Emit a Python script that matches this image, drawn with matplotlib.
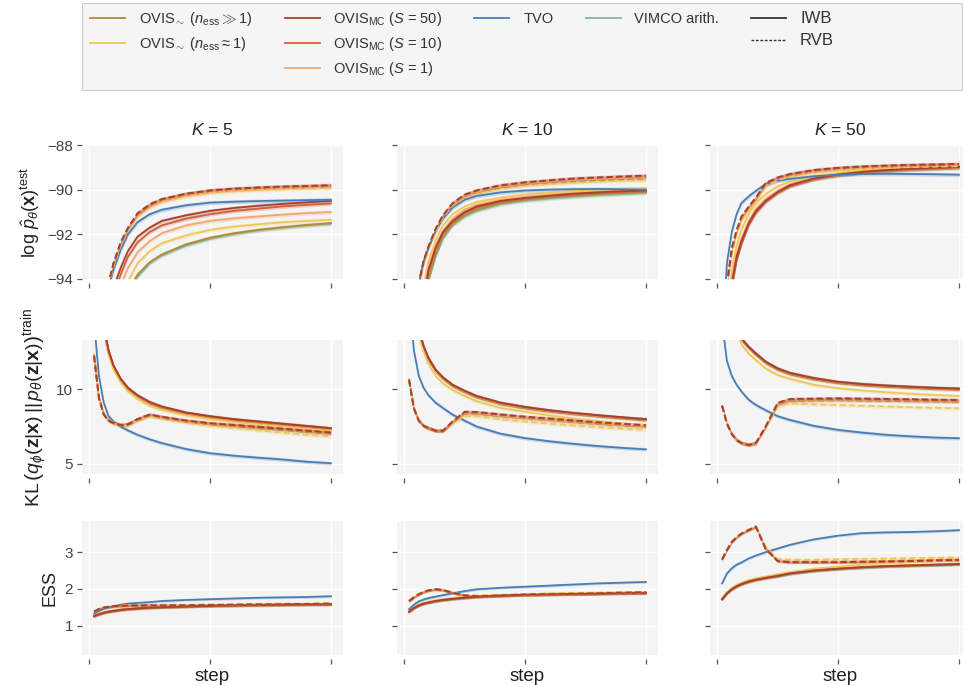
import matplotlib
matplotlib.use("Agg")
import matplotlib.pyplot as plt
from matplotlib.lines import Line2D
from matplotlib.patches import Rectangle

plt.rcParams["font.family"] = ["Liberation Sans", "DejaVu Sans"]
plt.rcParams["mathtext.fontset"] = "custom"
plt.rcParams["mathtext.rm"] = "Liberation Sans"
plt.rcParams["mathtext.it"] = "Liberation Sans:italic"
plt.rcParams["mathtext.bf"] = "Liberation Sans:bold"

steps = [2, 4, 6, 8, 10, 13, 16, 20, 25, 30, 40, 50, 60, 70, 80, 90, 100]
k_values = [5, 10, 50]

# ---- log p(x) on test set ----
logp_k5_iwb = {
    "vimco": [-103, -101, -99.6, -98.6, -97.6, -96.0, -94.6, -93.9, -93.3, -92.95, -92.5, -92.2, -91.98, -91.82, -91.7, -91.6, -91.52],
    "nbig": [-103, -101, -99.5, -98.5, -97.5, -95.8, -94.5, -93.8, -93.25, -92.9, -92.45, -92.15, -91.95, -91.8, -91.68, -91.58, -91.5],
    "nsmall": [-102, -100, -98.5, -97.4, -96.3, -95.0, -94.1, -93.3, -92.75, -92.4, -92.05, -91.8, -91.65, -91.55, -91.46, -91.4, -91.35],
    "s1": [-101, -99, -97.5, -96.3, -95.4, -94.3, -93.5, -92.8, -92.3, -91.95, -91.6, -91.4, -91.28, -91.2, -91.12, -91.05, -91.0],
    "s10": [-100.5, -98.6, -97.0, -95.7, -94.7, -93.8, -93.0, -92.35, -91.9, -91.6, -91.3, -91.1, -90.95, -90.85, -90.75, -90.68, -90.62],
    "s50": [-100, -98.2, -96.6, -95.3, -94.4, -93.5, -92.75, -92.1, -91.7, -91.4, -91.15, -90.95, -90.82, -90.72, -90.64, -90.57, -90.5],
    "tvo": [-99, -97, -95.4, -94.4, -93.6, -92.7, -92.0, -91.45, -91.1, -90.9, -90.7, -90.58, -90.54, -90.51, -90.49, -90.47, -90.45],
}
logp_k5_rvb = {
    "nsmall": [-99, -97, -95.4, -94.3, -93.45, -92.5, -91.85, -91.2, -90.8, -90.55, -90.3, -90.15, -90.07, -90.02, -89.98, -89.95, -89.93],
    "nbig": [-99, -97, -95.3, -94.2, -93.3, -92.4, -91.75, -91.1, -90.7, -90.45, -90.2, -90.05, -89.98, -89.93, -89.9, -89.87, -89.85],
    "s1": [-99, -97, -95.4, -94.3, -93.4, -92.45, -91.8, -91.15, -90.75, -90.5, -90.25, -90.1, -90.02, -89.97, -89.93, -89.9, -89.88],
    "s10": [-99, -97, -95.3, -94.2, -93.35, -92.4, -91.75, -91.1, -90.7, -90.45, -90.2, -90.05, -89.97, -89.92, -89.88, -89.85, -89.82],
    "s50": [-99, -97, -95.3, -94.2, -93.3, -92.35, -91.7, -91.05, -90.65, -90.42, -90.18, -90.03, -89.95, -89.9, -89.86, -89.83, -89.8],
}
logp_k10_iwb = {
    "vimco": [-101.5, -99.5, -97.5, -95.5, -94.1, -93.0, -92.2, -91.6, -91.2, -90.95, -90.65, -90.5, -90.4, -90.32, -90.25, -90.2, -90.15],
    "nbig": [-101.5, -99.5, -97.5, -95.4, -94.0, -92.9, -92.1, -91.55, -91.15, -90.9, -90.6, -90.45, -90.35, -90.27, -90.2, -90.15, -90.1],
    "nsmall": [-100, -98, -96, -94.3, -93.2, -92.25, -91.6, -91.1, -90.75, -90.55, -90.35, -90.22, -90.13, -90.05, -90.0, -89.96, -89.93],
    "s1": [-101, -98.8, -96.8, -94.8, -93.5, -92.5, -91.85, -91.3, -90.9, -90.68, -90.45, -90.32, -90.22, -90.15, -90.1, -90.05, -90.0],
    "s10": [-101, -99, -97, -95, -93.7, -92.65, -91.95, -91.45, -91.05, -90.8, -90.53, -90.4, -90.3, -90.22, -90.15, -90.1, -90.06],
    "s50": [-101, -99, -97, -95, -93.6, -92.6, -91.9, -91.4, -91.0, -90.75, -90.5, -90.37, -90.27, -90.18, -90.12, -90.07, -90.03],
    "tvo": [-99, -96.5, -94.2, -93.2, -92.6, -91.85, -91.3, -90.8, -90.45, -90.28, -90.12, -90.04, -90.0, -89.98, -89.97, -89.98, -90.0],
}
logp_k10_rvb = {
    "nsmall": [-99, -96.6, -94.3, -93.3, -92.65, -91.85, -91.25, -90.72, -90.35, -90.17, -89.95, -89.82, -89.74, -89.68, -89.63, -89.6, -89.58],
    "nbig": [-99, -96.6, -94.3, -93.3, -92.6, -91.8, -91.2, -90.68, -90.3, -90.12, -89.9, -89.76, -89.68, -89.62, -89.57, -89.53, -89.5],
    "s1": [-99, -96.6, -94.3, -93.3, -92.6, -91.8, -91.2, -90.66, -90.28, -90.1, -89.86, -89.72, -89.64, -89.57, -89.52, -89.48, -89.45],
    "s10": [-99, -96.5, -94.2, -93.2, -92.55, -91.75, -91.15, -90.62, -90.24, -90.05, -89.82, -89.68, -89.6, -89.52, -89.47, -89.43, -89.4],
    "s50": [-99, -96.5, -94.2, -93.2, -92.55, -91.75, -91.15, -90.6, -90.22, -90.03, -89.8, -89.67, -89.58, -89.5, -89.45, -89.41, -89.37],
}
logp_k50_iwb = {
    "vimco": [-102, -97.2, -94.4, -93.1, -92.4, -91.55, -91.0, -90.52, -90.12, -89.83, -89.52, -89.35, -89.24, -89.16, -89.1, -89.06, -89.03],
    "nbig": [-102, -97, -94.2, -93.0, -92.3, -91.5, -90.95, -90.48, -90.08, -89.8, -89.5, -89.32, -89.21, -89.13, -89.07, -89.03, -88.99],
    "nsmall": [-100, -96, -93.6, -92.5, -91.8, -91.1, -90.6, -90.2, -89.85, -89.65, -89.4, -89.25, -89.15, -89.08, -89.04, -89.02, -89.0],
    "s1": [-101.5, -96.8, -94.1, -92.9, -92.2, -91.4, -90.85, -90.42, -90.05, -89.78, -89.48, -89.3, -89.19, -89.11, -89.05, -89.01, -88.97],
    "s10": [-102, -97.2, -94.4, -93.2, -92.45, -91.6, -91.05, -90.55, -90.15, -89.85, -89.53, -89.35, -89.23, -89.15, -89.09, -89.05, -89.01],
    "s50": [-102, -97, -94.2, -93.0, -92.3, -91.5, -90.95, -90.5, -90.1, -89.8, -89.5, -89.32, -89.2, -89.12, -89.06, -89.02, -88.98],
    "tvo": [-97, -93.3, -91.9, -91.1, -90.6, -90.3, -90.05, -89.75, -89.6, -89.52, -89.4, -89.33, -89.3, -89.29, -89.3, -89.31, -89.33],
}
logp_k50_rvb = {
    "nsmall": [-99, -94.5, -92.9, -92.0, -91.4, -90.9, -90.5, -89.85, -89.57, -89.42, -89.22, -89.12, -89.06, -89.02, -88.99, -88.97, -88.95],
    "nbig": [-99, -94.3, -92.7, -91.9, -91.3, -90.8, -90.42, -89.78, -89.5, -89.35, -89.16, -89.06, -89.0, -88.96, -88.93, -88.91, -88.89],
    "s1": [-99, -94.4, -92.8, -91.9, -91.3, -90.85, -90.45, -89.8, -89.52, -89.37, -89.17, -89.07, -89.01, -88.97, -88.94, -88.92, -88.9],
    "s10": [-99, -94.3, -92.7, -91.85, -91.25, -90.8, -90.4, -89.75, -89.48, -89.33, -89.14, -89.04, -88.98, -88.94, -88.91, -88.89, -88.87],
    "s50": [-99, -94.2, -92.6, -91.8, -91.2, -90.75, -90.35, -89.7, -89.45, -89.3, -89.12, -89.02, -88.96, -88.92, -88.89, -88.87, -88.85],
}

# ---- KL(q || p) on training set ----
kl_k5_iwb = {
    "vimco": [22, 17, 14.2, 12.6, 11.55, 10.68, 10.07, 9.56, 9.12, 8.82, 8.42, 8.17, 7.97, 7.82, 7.67, 7.52, 7.38],
    "nbig": [22, 17, 14.1, 12.5, 11.5, 10.6, 10.0, 9.5, 9.05, 8.75, 8.35, 8.1, 7.9, 7.75, 7.6, 7.45, 7.3],
    "nsmall": [21.5, 16.6, 13.8, 12.3, 11.3, 10.45, 9.85, 9.35, 8.9, 8.62, 8.25, 8.0, 7.8, 7.65, 7.5, 7.35, 7.2],
    "s1": [22, 17, 14.2, 12.6, 11.55, 10.65, 10.05, 9.55, 9.1, 8.8, 8.4, 8.15, 7.95, 7.8, 7.65, 7.5, 7.35],
    "s10": [22, 17, 14.2, 12.6, 11.6, 10.7, 10.1, 9.58, 9.12, 8.82, 8.42, 8.17, 7.97, 7.82, 7.67, 7.52, 7.38],
    "s50": [22, 17, 14.2, 12.6, 11.6, 10.7, 10.1, 9.6, 9.15, 8.85, 8.45, 8.2, 8.0, 7.85, 7.7, 7.55, 7.4],
    "tvo": [14.5, 10.9, 9.1, 8.2, 7.85, 7.5, 7.25, 6.95, 6.65, 6.4, 6.0, 5.72, 5.55, 5.42, 5.3, 5.15, 5.05],
}
kl_k5_rvb = {
    "nsmall": [12.4, 9.5, 8.35, 7.9, 7.72, 7.55, 7.58, 7.9, 8.18, 8.02, 7.75, 7.55, 7.4, 7.25, 7.1, 6.95, 6.85],
    "nbig": [12.2, 9.4, 8.3, 7.9, 7.74, 7.58, 7.62, 7.95, 8.25, 8.1, 7.85, 7.66, 7.53, 7.4, 7.28, 7.15, 7.02],
    "s1": [12.3, 9.5, 8.4, 7.95, 7.8, 7.65, 7.68, 8.0, 8.28, 8.12, 7.88, 7.7, 7.58, 7.46, 7.34, 7.2, 7.08],
    "s10": [12.3, 9.45, 8.35, 7.92, 7.77, 7.62, 7.67, 8.02, 8.32, 8.17, 7.92, 7.74, 7.62, 7.5, 7.38, 7.25, 7.13],
    "s50": [12.2, 9.4, 8.3, 7.9, 7.75, 7.6, 7.65, 8.0, 8.3, 8.15, 7.9, 7.72, 7.6, 7.47, 7.35, 7.22, 7.1],
}
kl_k10_iwb = {
    "vimco": [20, 16, 14, 12.9, 12.08, 11.28, 10.77, 10.27, 9.87, 9.52, 9.07, 8.8, 8.58, 8.4, 8.25, 8.12, 8.0],
    "nbig": [20, 16, 14, 12.85, 12.0, 11.2, 10.7, 10.2, 9.8, 9.45, 9.0, 8.73, 8.52, 8.35, 8.2, 8.07, 7.95],
    "nsmall": [19.5, 15.5, 13.6, 12.5, 11.7, 10.9, 10.4, 9.95, 9.55, 9.2, 8.75, 8.5, 8.25, 8.05, 7.88, 7.72, 7.6],
    "s1": [20, 16, 14, 12.9, 12.05, 11.25, 10.75, 10.25, 9.85, 9.5, 9.05, 8.78, 8.56, 8.38, 8.23, 8.1, 7.97],
    "s10": [20, 16, 14, 12.9, 12.1, 11.3, 10.78, 10.28, 9.88, 9.53, 9.08, 8.8, 8.58, 8.4, 8.25, 8.11, 7.98],
    "s50": [20, 16, 14, 12.9, 12.1, 11.3, 10.8, 10.3, 9.9, 9.55, 9.1, 8.82, 8.6, 8.42, 8.27, 8.13, 8.0],
    "tvo": [16, 12.6, 10.9, 10.1, 9.6, 9.1, 8.75, 8.3, 7.9, 7.5, 7.02, 6.73, 6.52, 6.35, 6.2, 6.08, 5.98],
}
kl_k10_rvb = {
    "nsmall": [10.7, 8.75, 7.95, 7.6, 7.45, 7.27, 7.25, 7.7, 8.2, 8.2, 8.0, 7.83, 7.7, 7.58, 7.47, 7.37, 7.28],
    "nbig": [10.6, 8.68, 7.88, 7.54, 7.4, 7.22, 7.2, 7.78, 8.38, 8.36, 8.2, 8.05, 7.93, 7.8, 7.68, 7.58, 7.5],
    "s1": [10.6, 8.7, 7.9, 7.56, 7.41, 7.23, 7.25, 7.8, 8.4, 8.4, 8.24, 8.08, 7.96, 7.84, 7.72, 7.62, 7.52],
    "s10": [10.7, 8.75, 7.92, 7.57, 7.42, 7.24, 7.24, 7.82, 8.45, 8.44, 8.28, 8.13, 8.01, 7.88, 7.76, 7.66, 7.56],
    "s50": [10.6, 8.7, 7.9, 7.55, 7.4, 7.22, 7.22, 7.85, 8.5, 8.48, 8.32, 8.17, 8.05, 7.92, 7.8, 7.7, 7.6],
}
kl_k50_iwb = {
    "vimco": [22, 18.5, 16.2, 14.6, 13.4, 12.84, 12.4, 11.85, 11.4, 11.1, 10.75, 10.5, 10.36, 10.26, 10.18, 10.11, 10.06],
    "nbig": [22, 18.4, 16.1, 14.5, 13.3, 12.75, 12.3, 11.75, 11.3, 11.0, 10.66, 10.42, 10.28, 10.18, 10.1, 10.03, 9.98],
    "nsmall": [21.5, 18, 15.8, 14.2, 13.0, 12.4, 11.95, 11.4, 10.95, 10.7, 10.3, 10.07, 9.92, 9.8, 9.7, 9.62, 9.55],
    "s1": [22, 18.4, 16.1, 14.5, 13.35, 12.8, 12.35, 11.8, 11.36, 11.06, 10.72, 10.47, 10.32, 10.22, 10.14, 10.07, 10.02],
    "s10": [22, 18.5, 16.2, 14.6, 13.4, 12.83, 12.38, 11.83, 11.38, 11.08, 10.73, 10.48, 10.33, 10.23, 10.15, 10.08, 10.03],
    "s50": [22, 18.5, 16.2, 14.6, 13.4, 12.85, 12.4, 11.85, 11.4, 11.1, 10.75, 10.5, 10.35, 10.25, 10.17, 10.1, 10.05],
    "tvo": [14.5, 11.9, 10.9, 10.3, 9.85, 9.3, 8.95, 8.6, 8.2, 7.95, 7.55, 7.28, 7.1, 6.95, 6.85, 6.77, 6.72],
}
kl_k50_rvb = {
    "nsmall": [8.95, 7.75, 7.05, 6.65, 6.45, 6.32, 6.45, 7.4, 8.85, 9.06, 9.0, 8.95, 8.9, 8.85, 8.8, 8.76, 8.73],
    "nbig": [8.9, 7.7, 7.0, 6.6, 6.4, 6.28, 6.4, 7.46, 8.98, 9.22, 9.25, 9.26, 9.24, 9.22, 9.2, 9.18, 9.16],
    "s1": [8.9, 7.72, 7.02, 6.62, 6.42, 6.3, 6.44, 7.45, 9.0, 9.26, 9.3, 9.31, 9.3, 9.28, 9.26, 9.24, 9.22],
    "s10": [8.9, 7.72, 7.02, 6.62, 6.42, 6.29, 6.42, 7.48, 9.05, 9.3, 9.33, 9.35, 9.33, 9.31, 9.29, 9.27, 9.25],
    "s50": [8.9, 7.7, 7.0, 6.6, 6.4, 6.27, 6.4, 7.5, 9.1, 9.35, 9.38, 9.4, 9.38, 9.36, 9.34, 9.31, 9.29],
}

# ---- effective sample size ----
ess_k5_iwb = {
    "vimco": [1.26, 1.31, 1.35, 1.38, 1.4, 1.43, 1.45, 1.47, 1.49, 1.5, 1.52, 1.53, 1.54, 1.55, 1.56, 1.57, 1.58],
    "nbig": [1.25, 1.3, 1.34, 1.37, 1.39, 1.42, 1.44, 1.46, 1.48, 1.49, 1.51, 1.53, 1.54, 1.55, 1.56, 1.57, 1.57],
    "nsmall": [1.28, 1.33, 1.37, 1.4, 1.42, 1.45, 1.47, 1.49, 1.51, 1.52, 1.54, 1.55, 1.56, 1.57, 1.58, 1.59, 1.6],
    "s1": [1.27, 1.32, 1.36, 1.39, 1.41, 1.44, 1.46, 1.48, 1.5, 1.51, 1.53, 1.54, 1.55, 1.56, 1.57, 1.58, 1.59],
    "s10": [1.26, 1.31, 1.35, 1.38, 1.4, 1.43, 1.45, 1.47, 1.49, 1.5, 1.52, 1.54, 1.55, 1.56, 1.57, 1.57, 1.58],
    "s50": [1.26, 1.31, 1.35, 1.38, 1.4, 1.43, 1.45, 1.47, 1.49, 1.5, 1.52, 1.54, 1.55, 1.56, 1.57, 1.58, 1.58],
    "tvo": [1.33, 1.4, 1.46, 1.5, 1.53, 1.57, 1.6, 1.62, 1.64, 1.67, 1.7, 1.72, 1.74, 1.76, 1.77, 1.78, 1.8],
}
ess_k5_rvb = {
    "nsmall": [1.39, 1.46, 1.5, 1.52, 1.54, 1.55, 1.56, 1.56, 1.56, 1.57, 1.57, 1.58, 1.58, 1.59, 1.6, 1.6, 1.61],
    "nbig": [1.38, 1.45, 1.49, 1.51, 1.52, 1.53, 1.54, 1.54, 1.55, 1.55, 1.55, 1.56, 1.56, 1.57, 1.58, 1.58, 1.59],
    "s1": [1.39, 1.46, 1.5, 1.52, 1.53, 1.54, 1.55, 1.55, 1.55, 1.56, 1.56, 1.57, 1.57, 1.58, 1.59, 1.59, 1.6],
    "s10": [1.38, 1.45, 1.49, 1.51, 1.53, 1.54, 1.54, 1.55, 1.55, 1.55, 1.55, 1.56, 1.57, 1.57, 1.58, 1.59, 1.59],
    "s50": [1.38, 1.45, 1.49, 1.51, 1.53, 1.54, 1.55, 1.55, 1.55, 1.55, 1.55, 1.56, 1.57, 1.58, 1.58, 1.59, 1.6],
}
ess_k10_iwb = {
    "vimco": [1.37, 1.47, 1.54, 1.59, 1.62, 1.66, 1.69, 1.72, 1.75, 1.78, 1.81, 1.83, 1.84, 1.85, 1.86, 1.87, 1.88],
    "nbig": [1.37, 1.47, 1.54, 1.59, 1.62, 1.66, 1.69, 1.72, 1.75, 1.78, 1.81, 1.83, 1.84, 1.85, 1.86, 1.87, 1.88],
    "nsmall": [1.39, 1.5, 1.57, 1.62, 1.65, 1.69, 1.72, 1.75, 1.78, 1.8, 1.83, 1.85, 1.87, 1.88, 1.89, 1.9, 1.91],
    "s1": [1.39, 1.49, 1.56, 1.61, 1.64, 1.68, 1.71, 1.74, 1.77, 1.79, 1.82, 1.84, 1.85, 1.86, 1.87, 1.88, 1.89],
    "s10": [1.38, 1.48, 1.55, 1.6, 1.63, 1.67, 1.7, 1.73, 1.76, 1.78, 1.81, 1.83, 1.85, 1.86, 1.87, 1.88, 1.88],
    "s50": [1.38, 1.48, 1.55, 1.6, 1.63, 1.67, 1.7, 1.73, 1.76, 1.79, 1.82, 1.84, 1.85, 1.86, 1.87, 1.88, 1.89],
    "tvo": [1.45, 1.57, 1.66, 1.71, 1.75, 1.79, 1.83, 1.88, 1.94, 1.99, 2.03, 2.06, 2.09, 2.12, 2.15, 2.17, 2.19],
}
ess_k10_rvb = {
    "nsmall": [1.67, 1.78, 1.86, 1.92, 1.96, 1.99, 1.97, 1.9, 1.83, 1.82, 1.84, 1.86, 1.88, 1.89, 1.9, 1.91, 1.92],
    "nbig": [1.66, 1.77, 1.85, 1.91, 1.95, 1.98, 1.96, 1.89, 1.82, 1.8, 1.82, 1.84, 1.85, 1.87, 1.88, 1.89, 1.9],
    "s1": [1.68, 1.78, 1.86, 1.92, 1.97, 2.0, 1.98, 1.9, 1.83, 1.81, 1.83, 1.85, 1.86, 1.87, 1.89, 1.9, 1.91],
    "s10": [1.67, 1.78, 1.86, 1.92, 1.96, 1.99, 1.97, 1.89, 1.82, 1.8, 1.82, 1.84, 1.85, 1.86, 1.88, 1.89, 1.9],
    "s50": [1.67, 1.77, 1.85, 1.91, 1.96, 1.99, 1.97, 1.9, 1.82, 1.8, 1.82, 1.85, 1.86, 1.87, 1.88, 1.9, 1.91],
}
ess_k50_iwb = {
    "vimco": [1.71, 1.87, 1.98, 2.06, 2.12, 2.19, 2.24, 2.29, 2.34, 2.4, 2.48, 2.53, 2.57, 2.6, 2.62, 2.64, 2.66],
    "nbig": [1.71, 1.87, 1.98, 2.06, 2.12, 2.19, 2.24, 2.29, 2.34, 2.41, 2.49, 2.54, 2.58, 2.61, 2.63, 2.65, 2.67],
    "nsmall": [1.74, 1.91, 2.03, 2.11, 2.17, 2.24, 2.29, 2.34, 2.4, 2.46, 2.55, 2.61, 2.66, 2.7, 2.73, 2.76, 2.78],
    "s1": [1.73, 1.89, 2.0, 2.08, 2.14, 2.21, 2.26, 2.31, 2.37, 2.43, 2.51, 2.56, 2.6, 2.63, 2.65, 2.67, 2.69],
    "s10": [1.72, 1.88, 1.99, 2.07, 2.13, 2.2, 2.25, 2.3, 2.36, 2.42, 2.5, 2.55, 2.59, 2.62, 2.64, 2.65, 2.67],
    "s50": [1.72, 1.88, 1.99, 2.07, 2.13, 2.2, 2.25, 2.3, 2.35, 2.42, 2.5, 2.55, 2.59, 2.62, 2.64, 2.66, 2.68],
    "tvo": [2.15, 2.42, 2.56, 2.66, 2.72, 2.83, 2.91, 3.0, 3.1, 3.2, 3.35, 3.45, 3.52, 3.54, 3.55, 3.57, 3.6],
}
ess_k50_rvb = {
    "nsmall": [2.81, 3.07, 3.29, 3.42, 3.52, 3.62, 3.7, 3.15, 2.82, 2.8, 2.8, 2.81, 2.82, 2.83, 2.84, 2.85, 2.86],
    "nbig": [2.8, 3.05, 3.27, 3.4, 3.5, 3.6, 3.7, 3.1, 2.77, 2.74, 2.74, 2.74, 2.75, 2.76, 2.77, 2.79, 2.8],
    "s1": [2.81, 3.06, 3.28, 3.41, 3.5, 3.6, 3.69, 3.12, 2.78, 2.75, 2.75, 2.75, 2.76, 2.77, 2.78, 2.8, 2.81],
    "s10": [2.8, 3.06, 3.28, 3.41, 3.51, 3.61, 3.68, 3.08, 2.75, 2.72, 2.72, 2.72, 2.73, 2.74, 2.75, 2.77, 2.78],
    "s50": [2.8, 3.05, 3.27, 3.4, 3.5, 3.6, 3.7, 3.1, 2.76, 2.73, 2.73, 2.73, 2.74, 2.75, 2.76, 2.78, 2.79],
}

panels = [
    [(logp_k5_iwb, logp_k5_rvb), (logp_k10_iwb, logp_k10_rvb), (logp_k50_iwb, logp_k50_rvb)],
    [(kl_k5_iwb, kl_k5_rvb), (kl_k10_iwb, kl_k10_rvb), (kl_k50_iwb, kl_k50_rvb)],
    [(ess_k5_iwb, ess_k5_rvb), (ess_k10_iwb, ess_k10_rvb), (ess_k50_iwb, ess_k50_rvb)],
]

colors = {
    "nbig": "#b58a35",
    "nsmall": "#f0c85a",
    "s50": "#a9402c",
    "s10": "#d0603c",
    "s1": "#f3a771",
    "tvo": "#4a7db5",
    "vimco": "#80b9a2",
}
labels = {
    "nbig": r"OVIS$_{\sim}$ $(n_{\mathrm{ess}} \gg 1)$",
    "nsmall": r"OVIS$_{\sim}$ $(n_{\mathrm{ess}} \approx 1)$",
    "s50": r"OVIS$_{\mathrm{MC}}$ ($S$ = 50)",
    "s10": r"OVIS$_{\mathrm{MC}}$ ($S$ = 10)",
    "s1": r"OVIS$_{\mathrm{MC}}$ ($S$ = 1)",
    "tvo": "TVO",
    "vimco": "VIMCO arith.",
}

row_ylabels = [
    r"$\log\,\hat{p}_{\theta}(\mathbf{x})^{\mathrm{test}}$",
    r"$\mathrm{KL}\,\left(q_{\phi}(\mathbf{z}|\mathbf{x})\,||\,p_{\theta}(\mathbf{z}|\mathbf{x})\right)^{\mathrm{train}}$",
    "ESS",
]
row_ylims = [(-94, -88), (4.33, 13.3), (0.2, 3.85)]
row_yticks = [[-94, -92, -90, -88], [5, 10], [1, 2, 3]]
band = [0.09, 0.12, 0.035]

fig = plt.figure(figsize=(9.63, 6.86), dpi=100)
W, H = 963, 686
col_left = [82, 397, 710]
row_top = [145, 340, 521]
ax_w, ax_h = 261, 134

for r in range(3):
    for c in range(3):
        ax = fig.add_axes([col_left[c] / W, 1 - (row_top[r] + ax_h) / H, ax_w / W, ax_h / H])
        ax.set_facecolor("#f4f4f4")
        for s in ax.spines.values():
            s.set_visible(False)
        ax.spines["bottom"].set_position(("outward", 3))
        ax.grid(True, color="white", lw=1.0)
        ax.set_axisbelow(True)

        iwb, rvb = panels[r][c]
        for key, ys in iwb.items():
            lo = [y - band[r] for y in ys]
            hi = [y + band[r] for y in ys]
            ax.fill_between(steps, lo, hi, color=colors[key], alpha=0.25, lw=0)
            ax.plot(steps, ys, color=colors[key], lw=1.3)
        for key, ys in rvb.items():
            lo = [y - band[r] for y in ys]
            hi = [y + band[r] for y in ys]
            ax.fill_between(steps, lo, hi, color=colors[key], alpha=0.25, lw=0)
            ax.plot(steps, ys, color=colors[key], lw=1.3, ls=(0, (3.5, 1.8)))

        ax.set_xlim(-3, 105)
        ax.set_ylim(*row_ylims[r])
        ax.set_xticks([0, 50, 100])
        ax.set_xticklabels([])
        ax.set_yticks(row_yticks[r])
        ax.tick_params(length=3.5, width=0.9, color="#555555", labelsize=11,
                       labelcolor="#444444", pad=3)
        if c == 0:
            fs = 14 if r == 1 else 13
            ax.set_ylabel(row_ylabels[r], fontsize=fs, color="#222222", labelpad=4)
        else:
            ax.set_yticklabels([])
        if r == 0:
            ax.set_title(r"$K$ = %d" % k_values[c], fontsize=12.5, color="#222222", pad=7)
        if r == 2:
            ax.set_xlabel("step", fontsize=13.5, color="#222222", labelpad=0)

# legend: methods by colour, objective by line style
order = ["nbig", "nsmall", None, "s50", "s10", "s1", "tvo", None, None, "vimco", None, None]
handles, names = [], []
for key in order:
    if key is None:
        handles.append(Line2D([], [], color="none"))
        names.append("")
    else:
        handles.append(Line2D([], [], color=colors[key], lw=1.3))
        names.append(labels[key])
handles += [Line2D([], [], color="#333333", lw=1.3),
            Line2D([], [], color="#333333", lw=1.0, ls=(0, (2, 1.2))),
            Line2D([], [], color="none")]
names += ["IWB", "RVB", ""]

fig.patches.append(Rectangle((82 / W, 1 - 90 / H), 880 / W, 87 / H,
                             transform=fig.transFigure, facecolor="#f5f5f5",
                             edgecolor="#cccccc", lw=0.8, zorder=0))
leg = fig.legend(handles, names, loc="upper left", ncol=5,
                 bbox_to_anchor=(84 / W, 1 - 4 / H), borderaxespad=0,
                 fontsize=10.5, frameon=False,
                 handlelength=2.4, handletextpad=0.95, labelspacing=0.5,
                 borderpad=0.4, columnspacing=2.2)
for t in leg.get_texts():
    t.set_color("#333333")
    if t.get_text() in ("IWB", "RVB"):
        t.set_fontsize(12)

fig.savefig("out.png", dpi=100)
